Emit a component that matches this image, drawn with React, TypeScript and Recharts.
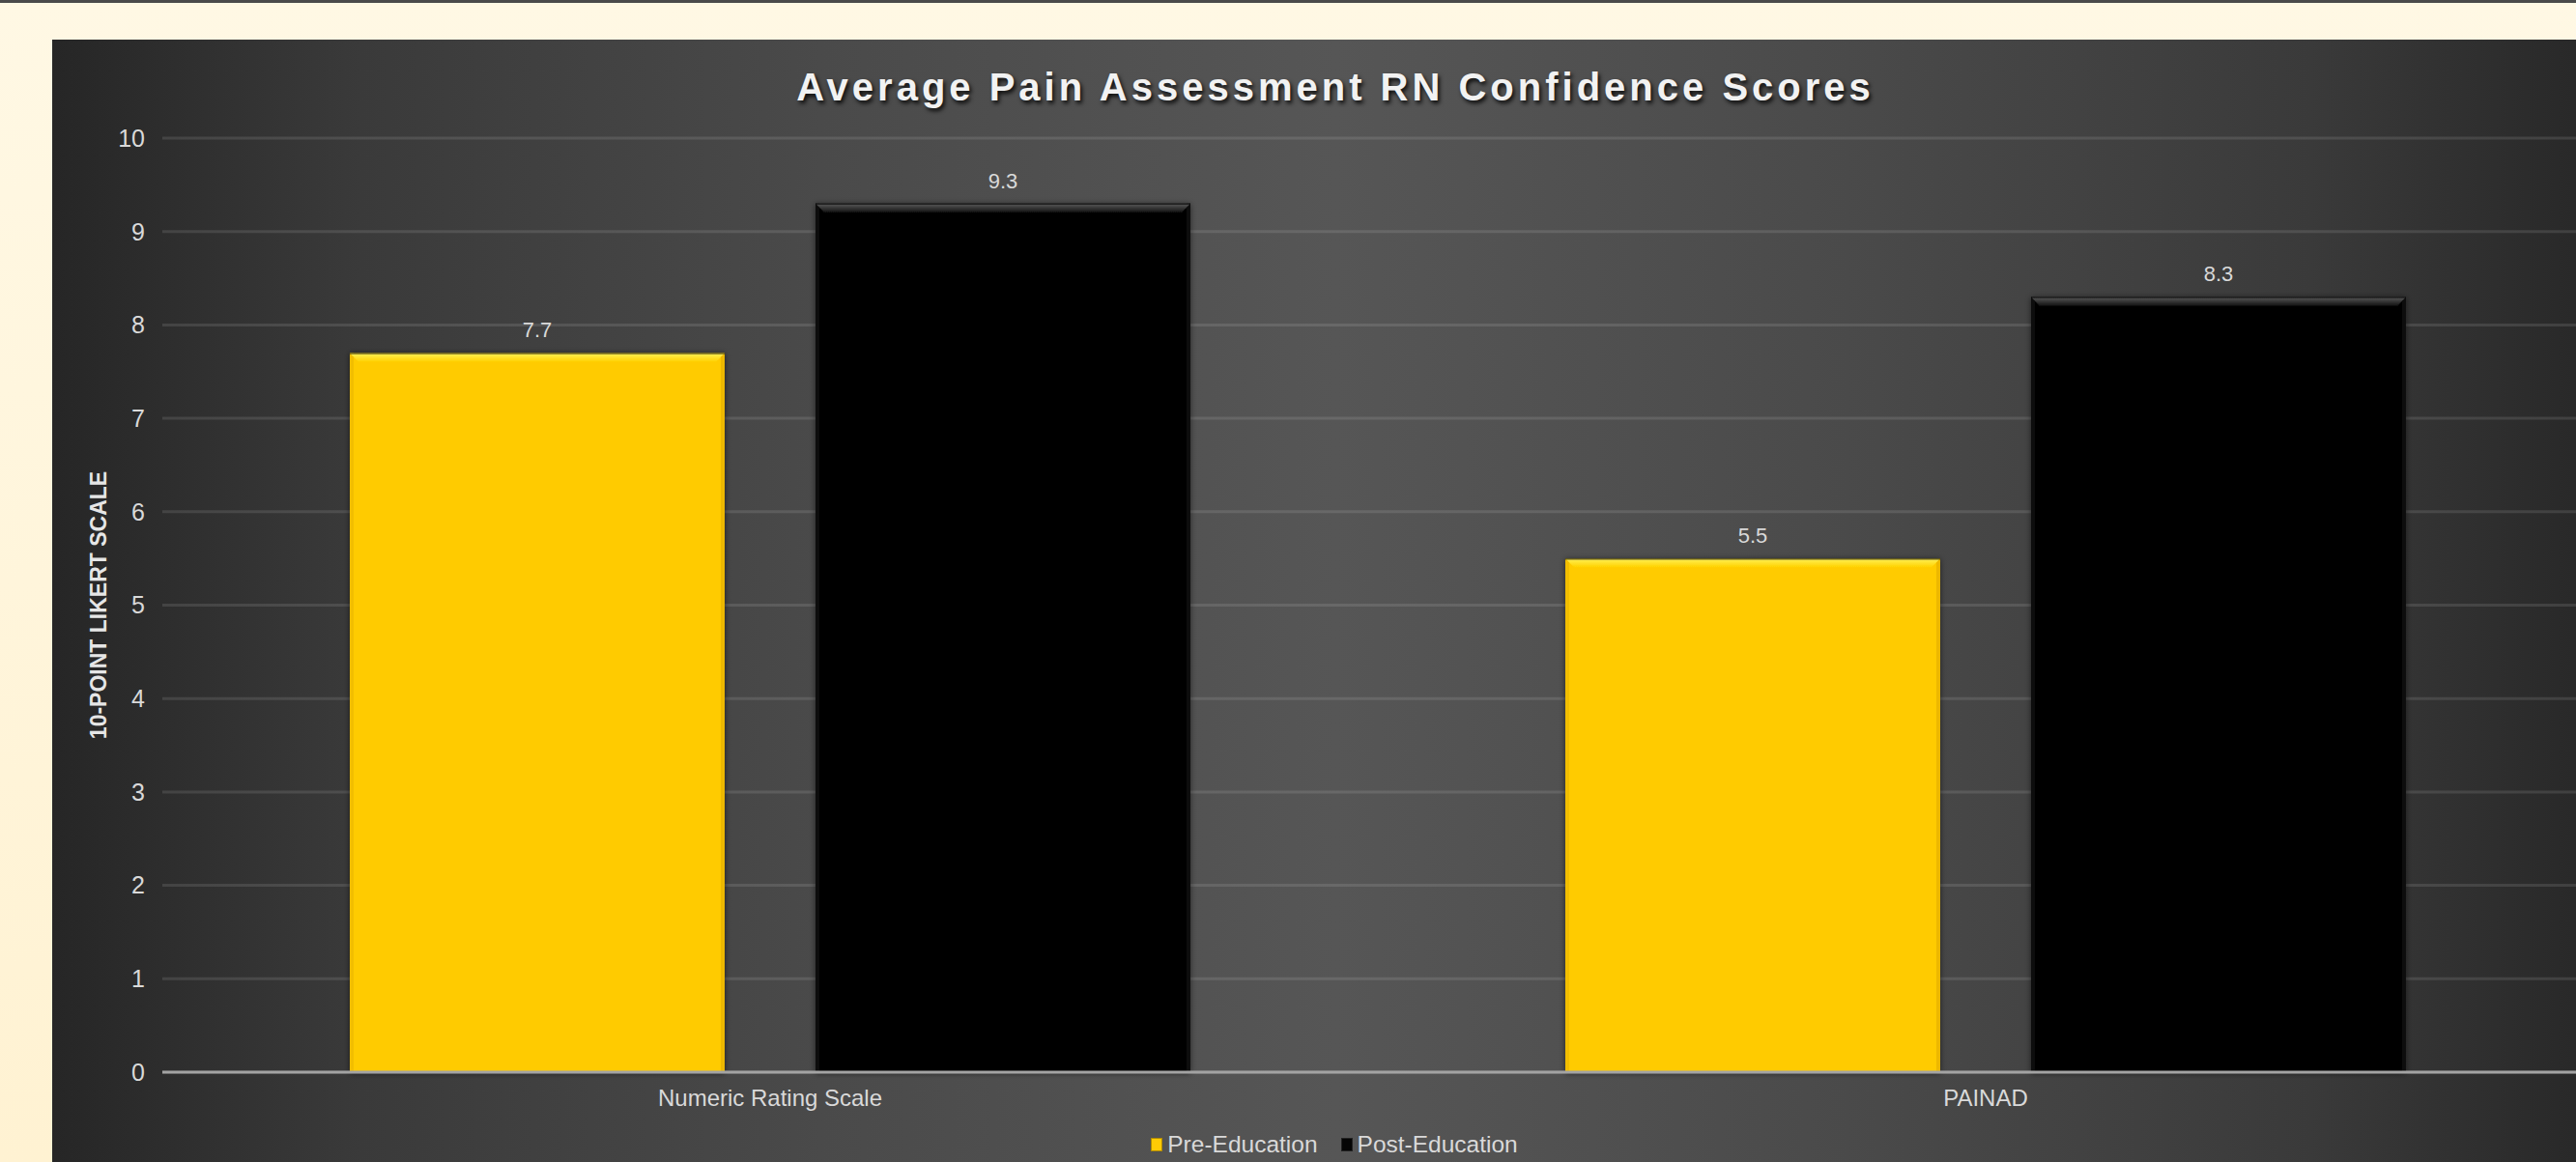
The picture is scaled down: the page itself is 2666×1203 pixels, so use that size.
import React from "react";
import { BarChart, Bar, XAxis, YAxis, CartesianGrid, LabelList, Legend } from "recharts";

const categories = ["Numeric Rating Scale", "PAINAD"];
const preEducation = [7.7, 5.5];
const postEducation = [9.3, 8.3];
const yTicks = [0, 1, 2, 3, 4, 5, 6, 7, 8, 9, 10];
const seriesNames = ["Pre-Education", "Post-Education"];
const titleText = "Average Pain Assessment RN Confidence Scores";
const yAxisTitle = "10-POINT LIKERT SCALE";

const data = categories.map((c, i) => ({ name: c, pre: preEducation[i], post: postEducation[i] }));

const FONT = '"Liberation Sans", Arial, Helvetica, sans-serif';
const YELLOW = "#FFCB05";
const BLACK = "#050505";

const makeBar = (kind: "y" | "k") => (props: any) => {
  const { x, y, width, height } = props;
  if (!width || !height) return null;
  const b = 9;
  const base = kind === "y" ? YELLOW : BLACK;
  return (
    <g filter="url(#barShadow)">
      <rect x={x} y={y} width={width} height={height} fill={base} />
      <rect x={x} y={y} width={4} height={height} fill={kind === "y" ? "#F2BE00" : "#0b0b0b"} />
      <rect x={x + width - 4} y={y} width={4} height={height} fill={kind === "y" ? "#EDB800" : "#0b0b0b"} />
      <polygon
        points={`${x},${y} ${x + width},${y} ${x + width - b},${y + b} ${x + b},${y + b}`}
        fill={`url(#bevel-${kind})`}
      />
      <line x1={x} y1={y + 0.5} x2={x + width} y2={y + 0.5} stroke="rgba(0,0,0,0.6)" strokeWidth={1.5} />
    </g>
  );
};

const LegendContent = () => (
  <div
    style={{
      height: 36,
      lineHeight: "36px",
      display: "flex",
      justifyContent: "center",
      alignItems: "center",
      fontFamily: FONT,
      fontSize: 24.5,
      color: "#d9d9d9",
      paddingLeft: 24,
    }}
  >
    {seriesNames.map((n, i) => (
      <span key={n} style={{ display: "flex", alignItems: "center", marginRight: i === 0 ? 24 : 0 }}>
        <span
          style={{
            display: "inline-block",
            width: 10,
            height: 12,
            background: i === 0 ? YELLOW : BLACK,
            border: i === 0 ? "1px solid #b08a00" : "1px solid #222",
            marginRight: 5,
          }}
        />
        {n}
      </span>
    ))}
  </div>
);

const YLabel = (p: any) => {
  const vb = p.viewBox || {};
  const cx = (vb.x || 0) + 48;
  const cy = (vb.y || 0) + (vb.height || 0) / 2;
  return (
    <text
      x={cx}
      y={cy}
      transform={`rotate(-90 ${cx} ${cy})`}
      textAnchor="middle"
      dominantBaseline="central"
      fill="#e6e6e6"
      fontFamily={FONT}
      fontWeight="bold"
      fontSize={23}
    >
      {yAxisTitle}
    </text>
  );
};

export default function App() {
  return (
    <div
      style={{
        position: "absolute",
        left: 0,
        top: 0,
        width: 2666,
        height: 1203,
        overflow: "hidden",
        background: "linear-gradient(180deg, #FFF8E4 0%, #FFF2D2 100%)",
      }}
    >
      <div style={{ position: "absolute", left: 0, top: 0, width: 2666, height: 3, background: "#4a4a4a" }} />
      <div
        style={{
          position: "absolute",
          left: 54,
          top: 41,
          width: 2656,
          height: 1162,
          background:
            "linear-gradient(90deg, #262626 0%, #3a3a3a 12%, #4a4a4a 30%, #565656 50%, #4a4a4a 70%, #3a3a3a 88%, #262626 100%)",
        }}
      >
        <div
          style={{
            position: "absolute",
            left: 0,
            top: 27,
            width: 2656,
            textAlign: "center",
            fontFamily: FONT,
            fontWeight: "bold",
            fontSize: 40,
            letterSpacing: 4,
            color: "#f2f2f2",
            textShadow: "2px 3px 4px rgba(0,0,0,0.85)",
            lineHeight: "44px",
          }}
        >
          {titleText}
        </div>
        <BarChart
          width={2656}
          height={1162}
          data={data}
          margin={{ top: 102, right: 26, left: 0, bottom: 0 }}
          barSize={388}
          barGap={94}
        >
          <defs>
            <filter id="barShadow" x="-10%" y="-10%" width="120%" height="120%">
              <feDropShadow dx="0" dy="1" stdDeviation="3" floodColor="#000" floodOpacity="0.55" />
            </filter>
            <linearGradient id="bevel-y" x1="0" y1="0" x2="0" y2="1">
              <stop offset="0%" stopColor="#FFF25A" />
              <stop offset="100%" stopColor="#FFD200" />
            </linearGradient>
            <linearGradient id="bevel-k" x1="0" y1="0" x2="0" y2="1">
              <stop offset="0%" stopColor="#5a5a5a" />
              <stop offset="100%" stopColor="#141414" />
            </linearGradient>
          </defs>
          <CartesianGrid vertical={false} stroke="rgba(255,255,255,0.11)" strokeWidth={3} />
          <XAxis
            dataKey="name"
            height={57}
            axisLine={{ stroke: "#a3a3a3", strokeWidth: 3 }}
            tickLine={false}
            tickMargin={12}
            tick={{ fill: "#d9d9d9", fontSize: 24, fontFamily: FONT }}
          />
          <YAxis
            width={114}
            domain={[0, 10]}
            ticks={yTicks}
            interval={0}
            axisLine={false}
            tickLine={false}
            tickMargin={12}
            tick={{ fill: "#d9d9d9", fontSize: 25, fontFamily: FONT }}
            label={{ content: YLabel }}
          />
          <Legend verticalAlign="bottom" content={LegendContent} />
          <Bar dataKey="pre" name={seriesNames[0]} fill={YELLOW} shape={makeBar("y")} isAnimationActive={false}>
            <LabelList dataKey="pre" position="top" offset={16} fill="#d9d9d9" fontSize={22} fontFamily={FONT} />
          </Bar>
          <Bar dataKey="post" name={seriesNames[1]} fill={BLACK} shape={makeBar("k")} isAnimationActive={false}>
            <LabelList dataKey="post" position="top" offset={16} fill="#d9d9d9" fontSize={22} fontFamily={FONT} />
          </Bar>
        </BarChart>
      </div>
    </div>
  );
}
